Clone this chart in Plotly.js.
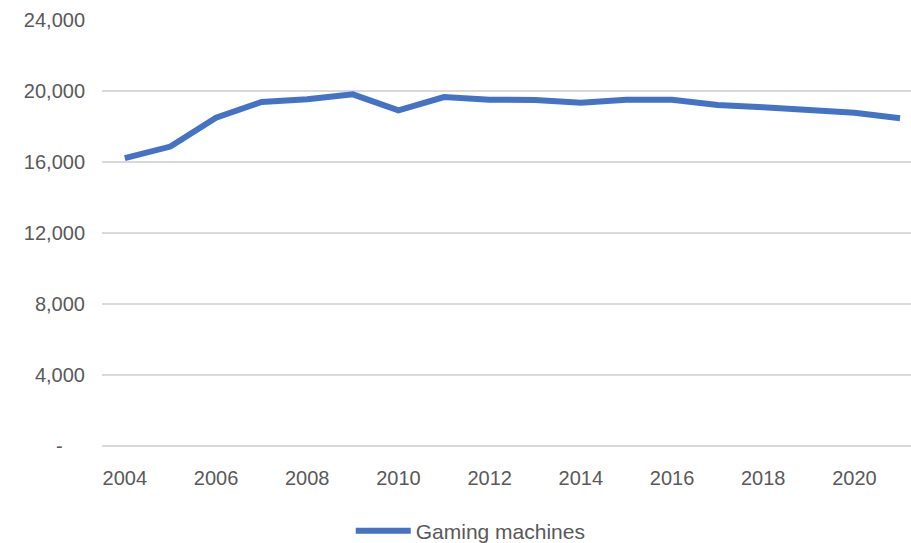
<!DOCTYPE html>
<html>
<head>
<meta charset="utf-8">
<script src="https://cdn.plot.ly/plotly-3.0.1.min.js"></script>
<style>html,body{margin:0;padding:0;background:#fff;}#chart{width:911px;height:543px;}</style>
</head>
<body>
<div id="chart"></div>
<script>
const years = [2004,2005,2006,2007,2008,2009,2010,2011,2012,2013,2014,2015,2016,2017,2018,2019,2020,2021];
const gamingMachines = [16220,16870,18500,19380,19530,19810,18910,19660,19510,19490,19340,19510,19510,19210,19080,18910,18770,18460];
const yTickVals = [0,4000,8000,12000,16000,20000,24000];
const yTickText = ['-\u00a0\u00a0\u00a0\u00a0','4,000','8,000','12,000','16,000','20,000','24,000'];
const xTickVals = [2004,2006,2008,2010,2012,2014,2016,2018,2020];
const seriesName = 'Gaming machines';

const font = {family: '"Liberation Sans", Arial, sans-serif', size: 20, color: '#595959'};
const legendFont = {family: '"Liberation Sans", Arial, sans-serif', size: 21, color: '#595959'};

Plotly.newPlot('chart', [{
  x: years, y: gamingMachines, type: 'scatter', mode: 'lines', name: seriesName,
  line: {color: '#4472C4', width: 6}
}], {
  width: 911, height: 543,
  margin: {l: 102, r: 0, t: 20, b: 97},
  paper_bgcolor: '#fff', plot_bgcolor: '#fff',
  font: font,
  showlegend: true,
  legend: {orientation: 'h', xref: 'container', yref: 'container', x: 0.385, xanchor: 'left', y: 0.022, yanchor: 'middle', font: legendFont, itemwidth: 55},
  xaxis: {
    range: [2003.5, 2021.24], tickvals: xTickVals, showgrid: false, zeroline: false, showline: false,
    ticks: 'outside', ticklen: 14, tickcolor: 'rgba(0,0,0,0)', tickfont: font
  },
  yaxis: {
    range: [0, 24000], tickvals: yTickVals, ticktext: yTickText, showgrid: true, gridcolor: '#d9d9d9', gridwidth: 1.5,
    zeroline: true, zerolinecolor: '#d9d9d9', zerolinewidth: 1.5, showline: false,
    ticks: 'outside', ticklen: 12, tickcolor: 'rgba(0,0,0,0)', tickfont: font
  }
}, {displayModeBar: false, staticPlot: true});
</script>
</body>
</html>
